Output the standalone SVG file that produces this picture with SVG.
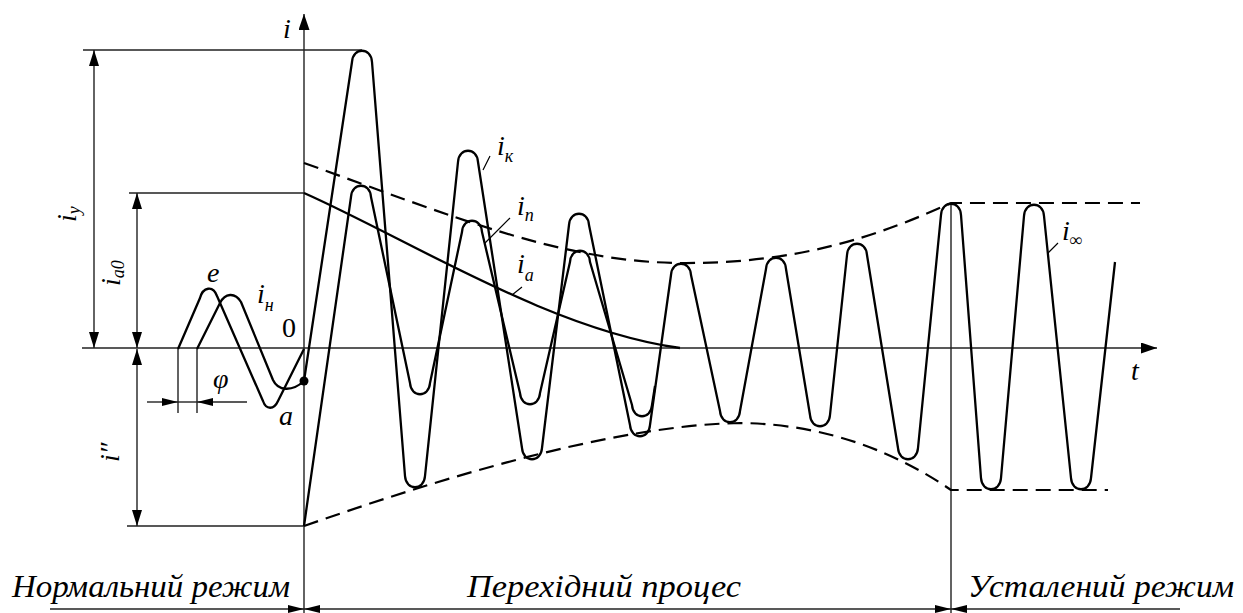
<svg xmlns="http://www.w3.org/2000/svg" width="1243" height="613" viewBox="0 0 1243 613">
<defs>
<style>
.ax{stroke:#222;stroke-width:1.4;fill:none}
.cv{stroke:#000;stroke-width:2.3;fill:none;stroke-linejoin:round}
.ds{stroke:#000;stroke-width:2.2;fill:none;stroke-dasharray:15 8}
.ld{stroke:#000;stroke-width:1.2;fill:none}
text{font-family:'Liberation Serif',serif}
.t{font-style:italic;font-size:28px;fill:#000}
.u{font-style:normal}
.s{font-size:18px}
.b{font-size:32px}
</style>
<marker id="ah" markerUnits="userSpaceOnUse" markerWidth="16" markerHeight="11" refX="16" refY="5.5" orient="auto"><path d="M0,0 L16,5.5 L0,11 z" fill="#000"/></marker>
<marker id="ahd" markerUnits="userSpaceOnUse" markerWidth="16" markerHeight="10" refX="16" refY="5" orient="auto-start-reverse"><path d="M0,0 L16,5 L0,10 z" fill="#000"/></marker>
<marker id="ahs" markerUnits="userSpaceOnUse" markerWidth="16" markerHeight="8" refX="16" refY="4" orient="auto"><path d="M0,0 L16,4 L0,8 z" fill="#000"/></marker>
</defs>
<rect width="1243" height="613" fill="#fff"/>
<g id="axes">
<path class="ax" d="M304,613 V14" marker-end="url(#ah)"/>
<path class="ax" d="M82,348 H1157" marker-end="url(#ah)"/>
<text class="t" x="283" y="38" font-family="Liberation Serif">i</text>
<text class="t" x="1131" y="380" font-family="Times New Roman">t</text>
<text class="t u" x="282" y="337" font-family="DejaVu Serif">0</text>
</g>

<g id="dimensions">
<path class="ax" d="M83,50 H362 M129,193 H304 M127,526 H304 M951,203 V613 M178,349 V413 M197,349 V413"/>
<path class="ax" d="M94,50 V348" marker-start="url(#ahd)" marker-end="url(#ahd)"/>
<path class="ax" d="M137,193 V348" marker-start="url(#ahd)" marker-end="url(#ahd)"/>
<path class="ax" d="M137,349 V526" marker-start="url(#ahd)" marker-end="url(#ahd)"/>
<path class="ax" d="M147,402 H178" marker-end="url(#ahs)"/>
<path class="ax" d="M247,402 H197" marker-end="url(#ahs)"/>
<path class="ax" d="M178,402 H197"/>
<path class="ax" d="M50,609 H304" marker-end="url(#ahs)"/>
<path class="ax" d="M628,609 H304" marker-end="url(#ahs)"/>
<path class="ax" d="M628,609 H951" marker-end="url(#ahs)"/>
<path class="ax" d="M1180,609 H951" marker-end="url(#ahs)"/>
<text class="t" transform="translate(76,222) rotate(-90)">i<tspan class="s" dy="4">у</tspan></text>
<text class="t" transform="translate(120,286) rotate(-90)">i<tspan class="s" dy="4">a0</tspan></text>
<text class="t" transform="translate(119,462) rotate(-90)">i″</text>
<text class="t" x="213" y="388">φ</text>
</g>

<g id="normal">
<path class="cv" d="M178,349 L200,298 C203,287 213,285 217,296 L263,401 C266,410 274,410 278,401 L304,349"/>
<path class="cv" d="M197,349 L220,303 C225,293 235,292 241,302 L273,380 C278,391 292,392 304,381"/>
<circle cx="304" cy="381" r="4.5" fill="#000"/>
<text class="t" x="207" y="282">e</text>
<text class="t" x="257" y="303">i<tspan class="s" dy="8">н</tspan></text>
<text class="t" x="279" y="425">a</text>
</g>

<g id="envelopes">
<path class="ds" d="M304,163 C450,215 560,262 680,263 C800,264 880,235 951,203 H1140"/>
<path class="ds" d="M304,526 C430,482 610,425 740,423 C830,424 900,455 951,490 H1108"/>
</g>

<g id="currents">
<path class="cv" d="M304,381 L352,62 C353,47 371,47 372,62 L405,476 C406,491 424,491 425,476 L458,162 C459,147 477,147 478,162 L522,448 C523,463 541,463 542,448 L569,225 C570,210 588,210 589,225 L630,425 C631,440 649,440 650,425 L671,275 C672,260 690,260 691,275 L720,411 C721,426 739,426 740,411 L766,269 C767,254 785,254 786,269 L810,415 C811,430 829,430 830,415 L847,255 C848,240 866,240 867,255 L898,448 C899,463 917,463 918,448 L941,215 C942,200 960,200 961,215 L981,478 C982,493 1000,493 1001,478 L1024,216 C1025,201 1043,201 1044,216 L1071,478 C1072,493 1090,493 1091,478 L1115,262"/>
<path class="cv" d="M304,526 L351,197 C352,182 370,182 371,197 L410,383 C411,398 429,398 430,383 L462,232 C463,217 481,217 482,232 L520,393 C521,408 539,408 540,393 L570,262 C571,247 589,247 590,262 L632,405 C633,420 651,420 652,405 L655,386"/>
<path class="cv" d="M304,193 C410,240 550,330 680,348"/>
</g>

<g id="labels">
<path class="ld" d="M490,156 L483,170 M510,218 L485,243 M522,287 L512,295 M1058,243 L1048,253"/>
<text class="t" x="497" y="155">i<tspan class="s" dy="7">к</tspan></text>
<text class="t" x="517" y="215">i<tspan class="s" dy="6">п</tspan></text>
<text class="t" x="517" y="273">i<tspan class="s" dy="8">a</tspan></text>
<text class="t" x="1062" y="240">i<tspan class="s" dy="6">∞</tspan></text>
</g>

<g id="regions">
<text class="t b" x="12" y="597" textLength="278" lengthAdjust="spacingAndGlyphs">Нормальний режим</text>
<text class="t b" x="467" y="597" textLength="274" lengthAdjust="spacingAndGlyphs">Перехідний процес</text>
<text class="t b" x="968" y="597" textLength="266" lengthAdjust="spacingAndGlyphs">Усталений режим</text>
</g>
</svg>
